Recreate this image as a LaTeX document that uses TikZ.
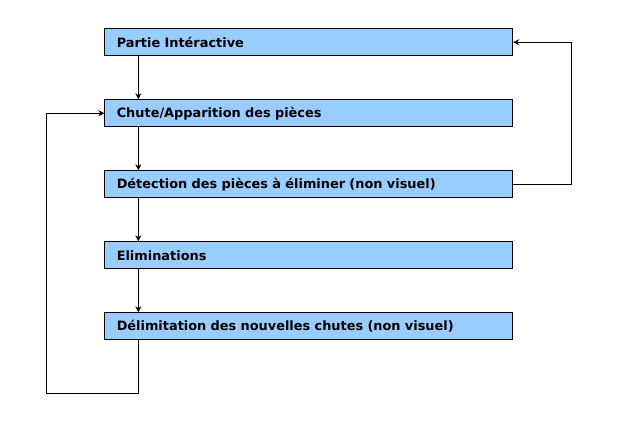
\documentclass[tikz,border=0pt]{standalone}
\usepackage{fontspec}
\setmainfont{DejaVu Sans}
\usetikzlibrary{arrows.meta}
\definecolor{boxblue}{HTML}{99CCFF}
\begin{document}
\begin{tikzpicture}[x=1pt,y=-1pt,
  stepbox/.style={draw=black,fill=boxblue,line width=0.9pt,rectangle,anchor=north west,
    minimum height=27pt,text width=384pt,inner xsep=12pt,inner ysep=0pt,align=left,
    font=\fontsize{12.9}{14}\selectfont\bfseries},
  conn/.style={draw=black,line width=0.8pt,-{Stealth[length=6pt,width=6pt]}},
  plain/.style={draw=black,line width=0.8pt}]
\useasboundingbox (0,0) rectangle (618,440);
\node[stepbox] (a) at (104.3,28.3) {Partie Intéractive};
\node[stepbox] (b) at (104.3,99.3) {Chute/Apparition des pièces};
\node[stepbox] (c) at (104.3,170.3) {Détection des pièces à éliminer (non visuel)};
\node[stepbox] (d) at (104.3,241.3) {Eliminations};
\node[stepbox] (e) at (104.3,312.3) {Délimitation des nouvelles chutes (non visuel)};
\coordinate (ax) at (138.3,0);
\draw[conn] (a.south -| ax) -- (b.north -| ax);
\draw[conn] (b.south -| ax) -- (c.north -| ax);
\draw[conn] (c.south -| ax) -- (d.north -| ax);
\draw[conn] (d.south -| ax) -- (e.north -| ax);
\coordinate (lb) at (46.5,393.3);
\coordinate (rr) at (571.3,0);
\draw[conn] (e.south -| ax) -- (ax |- lb) -- (lb) -- (lb |- b.west) -- (b.west);
\draw[conn] (c.east) -- (rr |- c.east) -- (rr |- a.east) -- (a.east);
\end{tikzpicture}
\end{document}
